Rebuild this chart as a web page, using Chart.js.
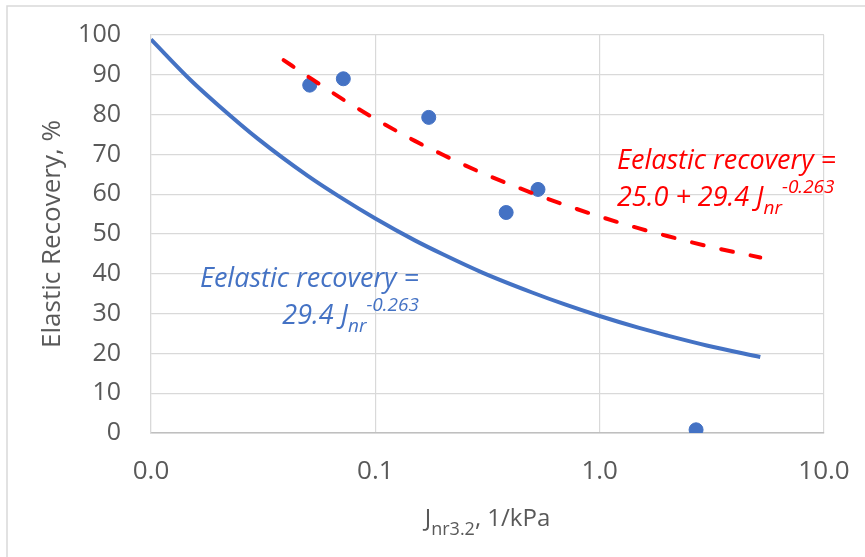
<!DOCTYPE html>
<html lang="en">
<head>
<meta charset="UTF-8">
<title>Elastic Recovery vs Jnr3.2</title>
<script src="https://cdn.jsdelivr.net/npm/chart.js"></script>
<style>
  html, body { margin: 0; padding: 0; background: #fff; }
  #wrap { width: 865px; height: 557px; }
</style>
</head>
<body>
<div id="wrap"><canvas id="myChart"></canvas></div>
<script>
// measured points (Jnr3.2 in 1/kPa, elastic recovery in %)
const jnrMeasured = [0.051, 0.072, 0.173, 0.383, 0.531, 2.69];
const erMeasured = [87.4, 89.0, 79.3, 55.4, 61.2, 0.8];

// blue power trendline
const jnrFit = [0.01, 0.015, 0.02, 0.03, 0.05, 0.07, 0.1, 0.15, 0.2, 0.3, 0.5, 0.7, 1, 1.5, 2, 3, 5.2];
const erFit = [98.9, 88.7, 82.3, 73.9, 64.6, 59.2, 53.9, 48.4, 44.9, 40.3, 35.3, 32.3, 29.4, 26.4, 24.5, 22.0, 19.1];

// red dashed shifted trendline
const jnrShift = [0.039, 0.05, 0.07, 0.1, 0.15, 0.2, 0.3, 0.5, 0.7, 1, 1.5, 2, 3, 5.2];
const erShift = [93.7, 89.6, 84.2, 78.9, 73.4, 69.9, 65.3, 60.3, 57.3, 54.4, 51.4, 49.5, 47.0, 44.1];

const xTicks = [0.01, 0.1, 1, 10];

const FONT = '"Open Sans", "Noto Sans", sans-serif';
const GREY = '#595959';
const BLUE = '#4472C4';
const RED = '#FF0000';

function zip(xs, ys) {
    return xs.map((x, i) => ({ x: x, y: ys[i] }));
}

// draws a run of text pieces (normal / sub / sup) starting at x, or ending at x
function drawRich(ctx, parts, x, y, align, style, color) {
    ctx.save();
    ctx.fillStyle = color;
    ctx.textBaseline = 'alphabetic';
    ctx.textAlign = 'left';
    let total = 0;
    parts.forEach(p => {
        ctx.font = style + ' ' + p.size + 'px ' + FONT;
        p.w = ctx.measureText(p.t).width;
        total += p.w;
    });
    let cx = align === 'right' ? x - total : (align === 'center' ? x - total / 2 : x);
    parts.forEach(p => {
        ctx.font = style + ' ' + p.size + 'px ' + FONT;
        ctx.fillText(p.t, cx, y + (p.dy || 0));
        cx += p.w;
    });
    ctx.restore();
}

const extras = {
    id: 'extras',
    beforeDraw(chart) {
        const ctx = chart.ctx;
        ctx.save();
        ctx.strokeStyle = '#d9d9d9';
        ctx.lineWidth = 1.5;
        ctx.strokeRect(7, 6, 900, 600);
        ctx.restore();
    },
    afterDraw(chart) {
        const ctx = chart.ctx;
        const area = chart.chartArea;
        // x axis title with subscript
        drawRich(ctx, [
            { t: 'J', size: 24 },
            { t: 'nr3.2', size: 18, dy: 9 },
            { t: ', 1/kPa', size: 24 }
        ], (area.left + area.right) / 2, 526, 'center', '', GREY);

        // red equation
        drawRich(ctx, [{ t: 'Eelastic recovery =', size: 27 }], 617, 169, 'left', 'italic', RED);
        drawRich(ctx, [
            { t: '25.0 + 29.4 J', size: 27 },
            { t: 'nr', size: 19, dy: 8 },
            { t: '-0.263', size: 19, dy: -13 }
        ], 617, 206, 'left', 'italic', RED);

        // blue equation
        drawRich(ctx, [{ t: 'Eelastic recovery =', size: 27 }], 419, 287, 'right', 'italic', BLUE);
        drawRich(ctx, [
            { t: '29.4 J', size: 27 },
            { t: 'nr', size: 19, dy: 8 },
            { t: '-0.263', size: 19, dy: -13 }
        ], 419, 324, 'right', 'italic', BLUE);
    }
};

const ctx = document.getElementById('myChart').getContext('2d');
const myChart = new Chart(ctx, {
    type: 'scatter',
    data: {
        datasets: [
            {
                label: 'Power fit',
                data: zip(jnrFit, erFit),
                showLine: true,
                borderColor: BLUE,
                borderWidth: 4,
                pointRadius: 0,
                cubicInterpolationMode: 'monotone'
            },
            {
                label: 'Shifted fit',
                data: zip(jnrShift, erShift),
                showLine: true,
                borderColor: RED,
                borderWidth: 4,
                borderDash: [12, 18],
                borderCapStyle: 'round',
                pointRadius: 0,
                cubicInterpolationMode: 'monotone'
            },
            {
                label: 'Measured',
                data: zip(jnrMeasured, erMeasured),
                backgroundColor: BLUE,
                borderColor: BLUE,
                pointRadius: 7,
                pointHoverRadius: 7
            }
        ]
    },
    options: {
        responsive: true,
        maintainAspectRatio: false,
        animation: false,
        layout: { padding: { left: 0, right: 41, top: 35, bottom: 0 } },
        plugins: {
            legend: { display: false },
            tooltip: { enabled: false }
        },
        scales: {
            x: {
                type: 'logarithmic',
                min: 0.01,
                max: 10,
                afterBuildTicks: s => { s.ticks = xTicks.map(v => ({ value: v })); },
                afterFit: s => { s.height = 124; s.paddingLeft = 0; s.paddingRight = 0; },
                ticks: {
                    callback: v => Number(v).toFixed(1),
                    color: GREY,
                    font: { family: FONT, size: 26 },
                    padding: 23,
                    maxRotation: 0,
                    autoSkip: false
                },
                grid: { color: '#d9d9d9', lineWidth: 1.2, drawTicks: false },
                border: { color: '#bfbfbf', width: 1.5 }
            },
            y: {
                min: 0,
                max: 100,
                afterFit: s => { s.width = 151; s.paddingTop = 0; s.paddingBottom = 0; },
                ticks: {
                    stepSize: 10,
                    color: GREY,
                    font: { family: FONT, size: 25 },
                    padding: 30
                },
                grid: { color: '#d9d9d9', lineWidth: 1.2, drawTicks: false },
                border: { color: '#d9d9d9', width: 1.2 },
                title: {
                    display: true,
                    text: 'Elastic Recovery, %',
                    color: GREY,
                    font: { family: FONT, size: 26 },
                    padding: { top: 37, bottom: 0 }
                }
            }
        }
    },
    plugins: [extras]
});
</script>
</body>
</html>
